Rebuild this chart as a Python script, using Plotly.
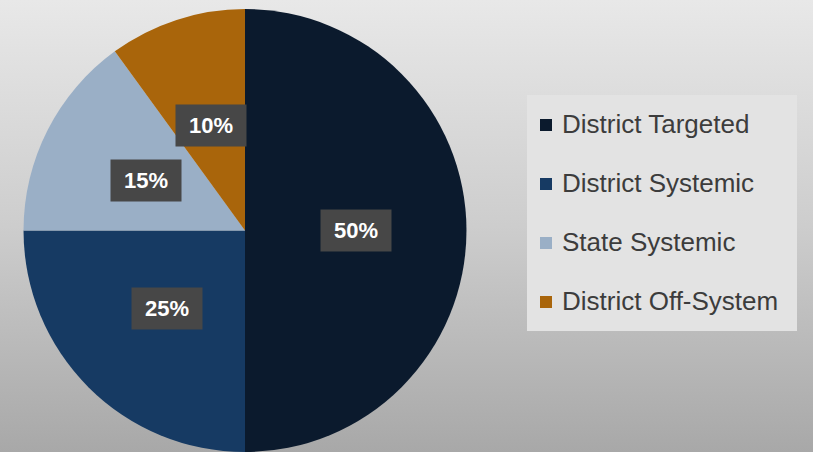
import base64
import math
import plotly.graph_objects as go

labels = ["District Targeted", "District Systemic", "State Systemic", "District Off-System"]
values = [50, 25, 15, 10]
colors = ["#0b1a2d", "#163a63", "#9aafc6", "#a9650b"]
text_labels = ["50%", "25%", "15%", "10%"]

W, H = 813, 452

# background gradient as an inline SVG image
svg = f"""<svg xmlns='http://www.w3.org/2000/svg' width='{W}' height='{H}' viewBox='0 0 {W} {H}' preserveAspectRatio='none'>
<defs><linearGradient id='g' x1='0' y1='0' x2='0' y2='1'>
<stop offset='0' stop-color='#e8e8e8'/><stop offset='0.5' stop-color='#cdcdcd'/><stop offset='1' stop-color='#a8a8a8'/></linearGradient></defs>
<rect width='{W}' height='{H}' fill='url(#g)'/></svg>"""
bg_src = "data:image/svg+xml;base64," + base64.b64encode(svg.encode()).decode()

dom_x = [23 / W, 467 / W]
dom_y = [0.0, 0.98]

fig = go.Figure(go.Pie(
    labels=labels, values=values, sort=False, direction="clockwise", rotation=0,
    marker=dict(colors=colors, line=dict(width=0)),
    textinfo="none", hoverinfo="label+percent", showlegend=False,
    domain=dict(x=dom_x, y=dom_y),
))

# label boxes placed at half radius along each slice's mid-angle
cx = (dom_x[0] + dom_x[1]) / 2 * W
cy = (dom_y[0] + dom_y[1]) / 2 * H
r = min((dom_x[1] - dom_x[0]) * W, (dom_y[1] - dom_y[0]) * H) / 2
total = sum(values)
cum = 0
annotations = []
for v, t in zip(values, text_labels):
    mid = (cum + v / 2) / total * 2 * math.pi
    cum += v
    px = cx + 0.5 * r * math.sin(mid)
    py = cy + 0.5 * r * math.cos(mid)
    annotations.append(dict(
        x=px / W, y=py / H, xref="paper", yref="paper", text="<b>" + t + "</b>",
        showarrow=False, xanchor="center", yanchor="middle",
        font=dict(family="Liberation Sans", size=22, color="white"),
        bgcolor="#474747", width=68, height=39, align="center", valign="middle",
    ))

# custom legend
shapes = [dict(type="rect", xref="paper", yref="paper",
               x0=527 / W, x1=797 / W, y0=1 - 331 / H, y1=1 - 95 / H,
               fillcolor="#e3e3e3", line=dict(width=0), layer="below")]
for i, (lab, col) in enumerate(zip(labels, colors)):
    yc = 124 + i * 59
    shapes.append(dict(type="rect", xref="paper", yref="paper",
                       x0=540 / W, x1=552 / W, y0=1 - (yc + 7) / H, y1=1 - (yc - 5) / H,
                       fillcolor=col, line=dict(width=0)))
    annotations.append(dict(
        x=560 / W, y=1 - yc / H, xref="paper", yref="paper", text=lab, showarrow=False,
        xanchor="left", yanchor="middle",
        font=dict(family="Liberation Sans", size=26, color="#3c3c3c"),
    ))

fig.update_layout(
    width=W, height=H, margin=dict(l=0, r=0, t=0, b=0),
    paper_bgcolor="#d0d0d0", plot_bgcolor="#d0d0d0",
    images=[dict(source=bg_src, xref="paper", yref="paper", x=0, y=1, sizex=1, sizey=1,
                 xanchor="left", yanchor="top", sizing="stretch", layer="below")],
    annotations=annotations, shapes=shapes,
)

fig.write_html("out.html", config={"displayModeBar": False},
               post_script="document.body.style.margin='0';")
